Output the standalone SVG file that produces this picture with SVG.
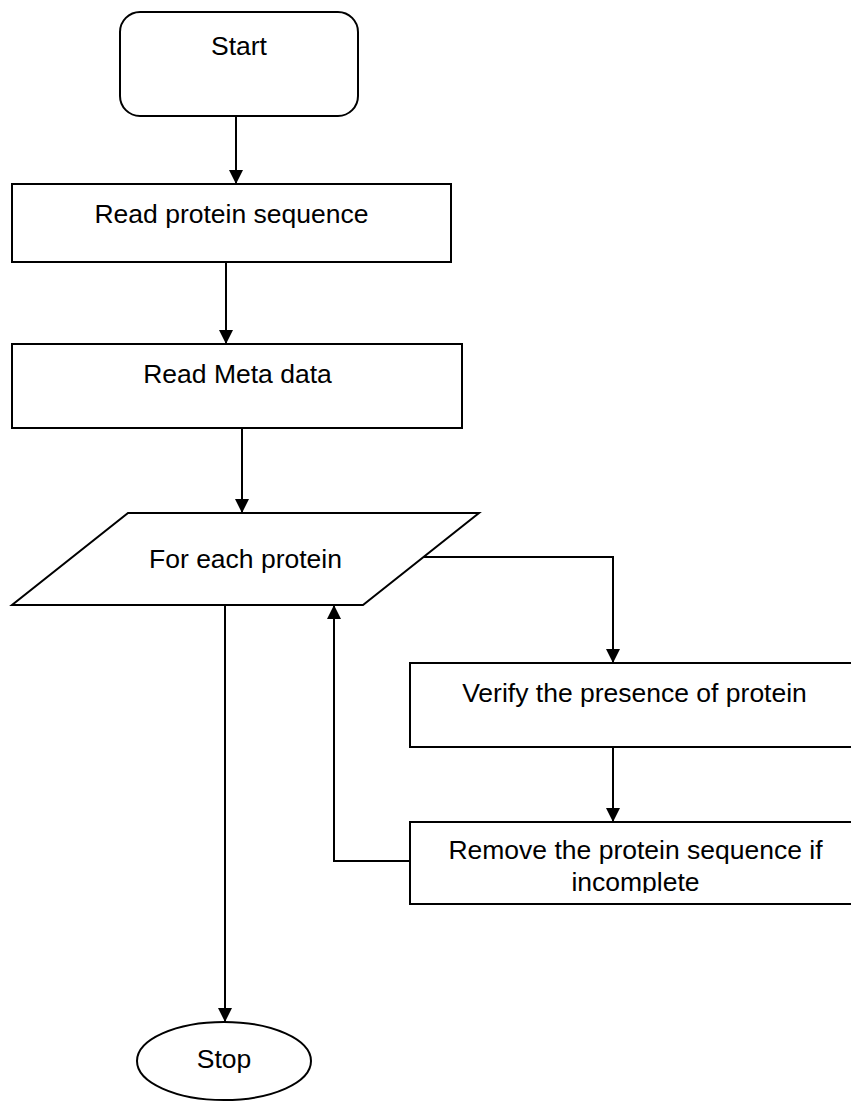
<svg xmlns="http://www.w3.org/2000/svg" width="851" height="1101" viewBox="0 0 851 1101">
<style>
.s{fill:#fff;stroke:#000;stroke-width:2}
.t{font-family:"Liberation Sans",Arial,sans-serif;font-size:26.5px;fill:#000;text-anchor:middle}
.c{fill:none;stroke:#000;stroke-width:2}
</style>
<defs>
<marker id="ah" viewBox="0 0 14 14" refX="14" refY="7" markerWidth="14" markerHeight="14" markerUnits="userSpaceOnUse" orient="auto">
<path d="M0,0 L14,7 L0,14 z" fill="#000"/>
</marker>
<clipPath id="rc"><rect x="410" y="822" width="450" height="71"/></clipPath>
</defs>
<rect width="851" height="1101" fill="#fff"/>
<g id="connectors">
<line class="c" x1="236" y1="116" x2="236" y2="184" marker-end="url(#ah)"/>
<line class="c" x1="226" y1="262" x2="226" y2="344" marker-end="url(#ah)"/>
<line class="c" x1="242" y1="428" x2="242" y2="513" marker-end="url(#ah)"/>
<polyline class="c" points="424,557 613,557 613,663" marker-end="url(#ah)"/>
<line class="c" x1="613" y1="747" x2="613" y2="822" marker-end="url(#ah)"/>
<polyline class="c" points="410,861 334,861 334,605" marker-end="url(#ah)"/>
<line class="c" x1="225" y1="605" x2="225" y2="1022" marker-end="url(#ah)"/>
</g>
<g id="start">
<rect class="s" x="120" y="12" width="238" height="104" rx="20" ry="20"/>
<text class="t" x="239" y="55">Start</text>
</g>
<g id="read-seq">
<rect class="s" x="12" y="184" width="439" height="78"/>
<text class="t" x="231.5" y="223">Read protein sequence</text>
</g>
<g id="read-meta">
<rect class="s" x="12" y="344" width="450" height="84"/>
<text class="t" x="237.5" y="383">Read Meta data</text>
</g>
<g id="for-each">
<polygon class="s" points="128,513 479,513 363,605 12,605"/>
<text class="t" x="245.5" y="568">For each protein</text>
</g>
<g id="verify">
<rect class="s" x="410" y="663" width="460" height="84"/>
<text class="t" x="634.5" y="702">Verify the presence of protein</text>
</g>
<g id="remove">
<rect class="s" x="410" y="822" width="460" height="82"/>
<g clip-path="url(#rc)">
<text class="t" x="635.5" y="859">Remove the protein sequence if</text>
<text class="t" x="635.5" y="891">incomplete</text>
</g>
</g>
<g id="stop">
<ellipse class="s" cx="224" cy="1061" rx="87" ry="39"/>
<text class="t" x="224" y="1068">Stop</text>
</g>
</svg>
